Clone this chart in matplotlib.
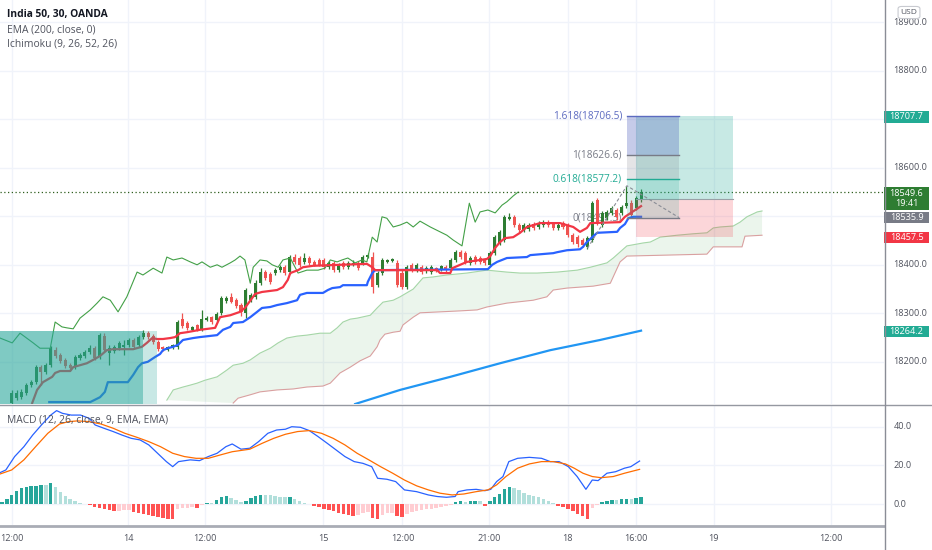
import numpy as np
import matplotlib.pyplot as plt
import matplotlib.transforms as mtransforms
from matplotlib.patches import Rectangle, FancyBboxPatch
from matplotlib.lines import Line2D

plt.rcParams['font.family'] = ['Open Sans', 'DejaVu Sans']

# ---------------- data (30 min bars, index = bar number) ----------------
opens = [18115, 18125, 18127, 18136, 18152, 18158, 18189, 18179, 18193, 18224,
         18214, 18204, 18193, 18189, 18208, 18212, 18220, 18228, 18210, 18253,
         18218, 18222, 18228, 18231, 18235, 18245, 18235, 18251, 18259, 18253,
         18241, 18231, 18224, 18228, 18231, 18288, 18280, 18266, 18276, 18266,
         18286, 18292, 18286, 18301, 18325, 18334, 18328, 18317, 18301, 18328,
         18334, 18362, 18385, 18381, 18383, 18389, 18395, 18385, 18416, 18414,
         18406, 18414, 18406, 18410, 18410, 18395, 18404, 18389, 18404, 18395,
         18400, 18404, 18404, 18416, 18416, 18358, 18383, 18406, 18408, 18404,
         18383, 18354, 18400, 18389, 18395, 18387, 18385, 18393, 18391, 18395,
         18393, 18410, 18426, 18424, 18404, 18416, 18414, 18410, 18400, 18424,
         18445, 18451, 18494, 18499, 18482, 18472, 18474, 18484, 18478, 18482,
         18488, 18484, 18476, 18486, 18482, 18461, 18457, 18451, 18437, 18451,
         18534, 18482, 18496, 18507, 18513, 18507, 18521, 18527, 18517, 18534]
closes = [18136, 18136, 18138, 18152, 18158, 18189, 18179, 18193, 18228, 18212,
          18202, 18191, 18187, 18210, 18214, 18220, 18228, 18208, 18255, 18224,
          18228, 18231, 18239, 18235, 18245, 18231, 18251, 18259, 18251, 18241,
          18226, 18226, 18231, 18235, 18282, 18274, 18270, 18272, 18266, 18288,
          18290, 18282, 18299, 18332, 18332, 18323, 18315, 18303, 18348, 18338,
          18362, 18385, 18373, 18365, 18389, 18395, 18383, 18416, 18406, 18400,
          18414, 18404, 18400, 18400, 18395, 18404, 18389, 18400, 18395, 18404,
          18404, 18393, 18416, 18420, 18354, 18383, 18410, 18410, 18412, 18358,
          18354, 18395, 18389, 18400, 18385, 18393, 18395, 18389, 18397, 18389,
          18410, 18426, 18416, 18406, 18414, 18406, 18406, 18404, 18424, 18457,
          18468, 18499, 18499, 18482, 18472, 18482, 18482, 18476, 18486, 18488,
          18482, 18476, 18482, 18478, 18461, 18447, 18443, 18441, 18455, 18527,
          18486, 18507, 18509, 18517, 18499, 18519, 18527, 18503, 18538, 18549.6]
highs = [18142, 18142, 18144, 18156, 18162, 18193, 18193, 18197, 18232, 18231,
         18218, 18208, 18197, 18214, 18218, 18224, 18235, 18232, 18259, 18259,
         18235, 18235, 18243, 18245, 18249, 18249, 18255, 18266, 18263, 18257,
         18245, 18233, 18233, 18237, 18286, 18301, 18284, 18274, 18278, 18307,
         18294, 18294, 18303, 18336, 18336, 18342, 18332, 18321, 18352, 18342,
         18369, 18393, 18389, 18385, 18393, 18400, 18400, 18420, 18422, 18418,
         18424, 18418, 18410, 18414, 18414, 18408, 18408, 18404, 18408, 18408,
         18410, 18408, 18420, 18424, 18426, 18387, 18414, 18412, 18414, 18410,
         18389, 18400, 18404, 18404, 18400, 18397, 18400, 18395, 18400, 18400,
         18414, 18430, 18430, 18428, 18418, 18420, 18418, 18414, 18428, 18461,
         18472, 18503, 18507, 18503, 18486, 18486, 18486, 18488, 18490, 18492,
         18492, 18488, 18486, 18490, 18486, 18466, 18461, 18455, 18459, 18532,
         18538, 18511, 18513, 18521, 18517, 18523, 18563, 18534, 18542, 18556]
lows = [18109, 18121, 18123, 18132, 18148, 18154, 18152, 18175, 18189, 18208,
        18198, 18187, 18183, 18185, 18204, 18208, 18216, 18204, 18206, 18220,
        18193, 18218, 18224, 18214, 18231, 18226, 18231, 18247, 18247, 18237,
        18222, 18222, 18222, 18226, 18226, 18270, 18266, 18264, 18264, 18264,
        18284, 18278, 18284, 18296, 18321, 18321, 18311, 18294, 18290, 18323,
        18330, 18358, 18369, 18360, 18379, 18385, 18379, 18381, 18402, 18395,
        18402, 18400, 18397, 18397, 18391, 18391, 18385, 18385, 18391, 18391,
        18397, 18389, 18400, 18414, 18342, 18354, 18379, 18404, 18406, 18354,
        18350, 18350, 18385, 18385, 18381, 18383, 18381, 18385, 18387, 18385,
        18389, 18406, 18412, 18402, 18400, 18402, 18402, 18400, 18397, 18420,
        18441, 18447, 18492, 18478, 18468, 18468, 18470, 18472, 18474, 18478,
        18478, 18472, 18472, 18474, 18457, 18443, 18437, 18437, 18433, 18447,
        18482, 18478, 18492, 18503, 18492, 18503, 18517, 18499, 18513, 18530]

# Ichimoku conversion (red) / base (blue) lines: (bar, price)
red_line = [(4.2, 18115), (5.2, 18142), (6.4, 18158), (8.3, 18169), (8.9, 18177),
            (9.9, 18181), (12.0, 18181), (12.6, 18189), (14.0, 18193), (15.4, 18197),
            (16.7, 18204), (18.1, 18212), (19.5, 18224), (20.8, 18226), (24.9, 18226),
            (26.7, 18231), (27.7, 18239), (28.8, 18249), (29.8, 18247), (31.0, 18247),
            (32.5, 18249), (33.5, 18251), (34.5, 18259), (35.9, 18261), (38.6, 18266),
            (41.7, 18270), (42.7, 18292), (44.8, 18296), (46.8, 18303), (47.8, 18311),
            (49.9, 18340), (51.3, 18344), (54.4, 18348), (55.6, 18354), (56.6, 18369),
            (57.1, 18383), (58.7, 18389), (59.7, 18395), (61.8, 18398), (67.3, 18400),
            (72.8, 18402), (73.9, 18395), (74.5, 18389), (87.2, 18389), (87.8, 18383),
            (89.9, 18383), (90.3, 18393), (93.3, 18406), (97.4, 18412), (98.1, 18418),
            (99.1, 18435), (100.1, 18447), (101.1, 18455), (102.8, 18457), (104.2, 18466),
            (105.6, 18478), (108.3, 18486), (112.4, 18486), (115.1, 18478), (116.5, 18468),
            (117.9, 18476), (118.6, 18486), (124.7, 18488), (125.7, 18499), (127.2, 18509),
            (129.0, 18521)]
blue_line = [(7.7, 18117), (16.1, 18117), (18.1, 18127), (19.1, 18138), (19.7, 18158),
             (23.8, 18158), (24.9, 18173), (25.9, 18189), (26.7, 18197), (27.9, 18200),
             (29.4, 18210), (30.4, 18216), (31.0, 18224), (32.0, 18228), (33.1, 18231),
             (34.1, 18235), (35.1, 18245), (37.2, 18249), (38.6, 18251), (42.1, 18255),
             (43.3, 18266), (44.8, 18272), (45.4, 18280), (47.4, 18282), (48.9, 18292),
             (50.3, 18303), (51.3, 18311), (53.0, 18313), (54.4, 18317), (55.4, 18319),
             (56.4, 18321), (58.5, 18327), (59.1, 18338), (60.5, 18342), (63.8, 18342),
             (64.8, 18348), (65.7, 18352), (67.3, 18354), (67.9, 18358), (72.8, 18358),
             (73.0, 18365), (73.9, 18383), (74.5, 18389), (97.6, 18391), (98.5, 18400),
             (99.5, 18406), (101.5, 18414), (105.6, 18416), (106.3, 18420), (111.0, 18424),
             (111.8, 18426), (113.8, 18430), (116.5, 18432), (117.1, 18437), (117.9, 18447),
             (119.0, 18457), (120.0, 18466), (124.1, 18468), (124.7, 18476), (125.7, 18484),
             (126.4, 18496), (127.4, 18499), (129.0, 18499)]
lagging = [(-2.4, 18249), (0.1, 18239), (1.7, 18259), (4.4, 18239), (5.8, 18228),
           (7.9, 18228), (8.9, 18282), (10.3, 18272), (11.3, 18270), (12.6, 18268),
           (14.0, 18290), (16.1, 18307), (17.5, 18321), (18.7, 18334), (20.2, 18327),
           (21.8, 18303), (23.6, 18334), (25.7, 18385), (26.9, 18379), (29.0, 18393),
           (30.8, 18383), (31.8, 18416), (33.1, 18410), (34.9, 18414), (36.6, 18406),
           (38.0, 18400), (39.0, 18406), (40.7, 18395), (42.1, 18400), (43.1, 18395),
           (44.8, 18404), (45.8, 18410), (46.8, 18418), (47.8, 18410), (48.9, 18362),
           (49.5, 18395), (50.9, 18410), (52.3, 18408), (53.4, 18400), (54.6, 18395),
           (55.6, 18410), (57.1, 18414), (58.7, 18383), (60.5, 18389), (62.8, 18389),
           (64.2, 18393), (65.3, 18410), (66.7, 18406), (67.7, 18410), (68.9, 18414),
           (70.4, 18404), (71.8, 18410), (72.8, 18406), (73.9, 18457), (74.9, 18447),
           (75.9, 18499), (76.9, 18496), (78.2, 18478), (79.6, 18482), (81.0, 18488),
           (82.3, 18478), (83.7, 18490), (85.8, 18478), (87.8, 18468), (89.2, 18461),
           (90.5, 18451), (92.3, 18439), (93.8, 18527), (95.0, 18488), (96.0, 18509),
           (97.6, 18513), (99.1, 18507), (100.5, 18523), (101.5, 18530), (102.8, 18542),
           (103.8, 18550)]
span_a = [(31.8, 18121), (33.1, 18142), (35.1, 18148), (36.6, 18152), (38.0, 18156),
          (39.6, 18162), (42.1, 18169), (44.1, 18183), (45.4, 18193), (47.4, 18197),
          (48.9, 18204), (50.9, 18218), (53.0, 18228), (54.6, 18239), (56.4, 18249),
          (58.5, 18253), (60.5, 18255), (63.2, 18259), (65.3, 18259), (66.7, 18270),
          (67.9, 18282), (69.4, 18288), (70.8, 18290), (73.5, 18296), (74.9, 18311),
          (76.1, 18323), (78.2, 18327), (79.6, 18334), (82.3, 18350), (84.3, 18373),
          (86.4, 18375), (89.2, 18379), (93.3, 18383), (97.4, 18389), (101.5, 18385),
          (104.2, 18383), (107.7, 18383), (111.8, 18385), (115.9, 18389), (118.6, 18395),
          (122.0, 18404), (123.3, 18414), (126.1, 18439), (129.4, 18445), (130.9, 18447),
          (132.9, 18457), (136.4, 18461), (139.7, 18464), (142.5, 18466), (143.8, 18476),
          (145.2, 18478), (147.9, 18480), (149.3, 18488), (150.7, 18499), (152.8, 18509),
          (153.8, 18511)]
span_b = [(45.4, 18115), (46.4, 18125), (48.9, 18132), (50.9, 18138), (54.4, 18142),
          (57.7, 18144), (60.5, 18148), (63.8, 18150), (65.3, 18156), (67.3, 18177),
          (69.4, 18189), (71.4, 18202), (73.5, 18212), (74.9, 18231), (75.5, 18245),
          (76.5, 18257), (78.2, 18261), (79.6, 18263), (80.2, 18276), (82.3, 18292),
          (83.7, 18301), (87.8, 18303), (91.9, 18305), (95.4, 18307), (97.4, 18313),
          (101.5, 18321), (106.9, 18327), (109.7, 18334), (111.0, 18348), (113.8, 18352),
          (116.5, 18354), (119.2, 18356), (122.7, 18362), (124.7, 18406), (126.1, 18418),
          (142.5, 18422), (143.8, 18437), (149.7, 18437), (150.3, 18459), (153.8, 18461)]
ema200 = [(70.4, 18113), (79.6, 18142), (89.9, 18169), (100.1, 18197),
          (110.4, 18224), (120.6, 18245), (129.0, 18264.2)]

# MACD panel
macd_line = [(-2.4, 16.3), (-1.2, 17.7), (0.6, 24.6), (2.5, 29.7), (4.3, 35.7), (6.1, 40.9),
             (8.0, 46.0), (9.2, 48.3), (10.4, 46.9), (12.2, 46.0), (14.1, 46.0), (15.9, 44.3),
             (17.1, 40.9), (18.9, 39.2), (20.8, 37.5), (22.6, 35.7), (24.5, 34.0), (26.3, 33.2),
             (28.1, 30.6), (29.9, 26.3), (31.7, 22.0), (33.0, 19.4), (34.2, 22.0), (36.6, 22.9),
             (38.5, 22.5), (40.3, 24.6), (42.1, 26.3), (43.9, 29.7), (45.2, 31.1), (47.0, 28.4),
             (48.8, 28.9), (50.6, 32.3), (52.5, 36.6), (54.3, 38.3), (56.1, 38.7), (57.4, 40.0),
             (59.2, 39.7), (61.0, 38.0), (62.8, 34.9), (64.7, 31.4), (66.5, 28.0), (68.3, 24.6),
             (70.2, 22.0), (72.0, 21.1), (73.8, 19.4), (75.0, 13.4), (76.9, 12.9), (78.7, 11.7),
             (80.5, 7.4), (83.0, 6.5), (85.4, 4.8), (87.2, 4.0), (89.1, 3.6), (90.9, 4.0),
             (91.5, 6.5), (93.3, 7.4), (95.2, 7.7), (97.0, 7.0), (98.2, 7.7), (99.4, 11.7),
             (100.7, 14.3), (101.9, 22.0), (103.7, 23.7), (106.1, 24.2), (108.6, 23.7),
             (110.4, 22.0), (112.2, 22.0), (114.1, 19.4), (115.9, 14.3), (117.7, 7.7),
             (119.0, 12.5), (120.2, 12.2), (122.0, 16.0), (123.8, 16.8), (125.6, 18.6),
             (126.9, 19.4), (128.7, 22.3)]
signal_line = [(-2.4, 15.6), (0.0, 17.7), (2.5, 22.9), (4.9, 29.7), (7.4, 36.6), (9.8, 41.4),
               (11.6, 42.6), (13.5, 43.0), (15.9, 42.6), (18.3, 41.4), (20.8, 39.2), (23.2, 36.6),
               (25.7, 34.5), (28.1, 32.3), (30.5, 29.7), (33.0, 26.3), (35.4, 24.6), (37.8, 23.7),
               (40.3, 23.7), (42.7, 25.4), (45.2, 27.1), (48.8, 28.4), (51.3, 31.4), (53.7, 34.0),
               (56.1, 36.1), (58.6, 37.5), (61.0, 38.0), (63.5, 36.6), (65.9, 34.0), (68.3, 30.6),
               (70.8, 26.3), (73.2, 22.9), (75.6, 19.4), (78.1, 16.0), (80.5, 12.5), (83.0, 9.5),
               (85.4, 7.4), (87.8, 5.7), (90.3, 4.8), (92.7, 5.3), (95.2, 6.5), (97.6, 7.4),
               (99.4, 10.0), (101.3, 14.3), (103.7, 18.6), (106.1, 20.8), (108.6, 22.0),
               (111.0, 22.0), (113.5, 20.8), (115.3, 18.6), (117.1, 16.0), (119.0, 14.3),
               (120.8, 13.7), (123.3, 14.3), (125.6, 16.0), (128.7, 18.0)]
hist_start = -2
hist = [1.4, 2.6, 4.8, 7.0, 8.2, 8.8, 9.5, 9.6, 10.0, 9.7, 11.0, 9.0, 6.5, 4.5, 2.8, 1.6,
        0.6, 0.1, -0.4, -1.2, -2.0, -2.6, -3.2, -3.6, -3.4, -3.0, -2.8, -3.9, -4.3, -4.8,
        -5.5, -6.2, -6.8, -7.2, -7.5, -7.7, -2.2, -2.0, -1.7, -1.5, -2.0, -0.4, 0.8, 0.5,
        2.4, 3.5, 4.2, 3.2, 2.2, 1.3, 1.8, 3.0, 4.3, 4.9, 4.8, 4.7, 4.3, 4.0, 3.5, 3.8,
        2.5, 1.6, 0.8, 0.3, -0.9, -1.6, -2.3, -3.0, -3.6, -4.3, -5.0, -5.6, -6.0, -5.4,
        -4.4, -4.0, -7.2, -7.6, -5.5, -4.6, -4.3, -5.8, -6.8, -5.0, -4.0, -3.4, -3.0, -2.6,
        -2.2, -1.8, -1.3, -0.8, -0.3, 1.2, 1.9, 1.4, 1.8, 1.9, 1.5, -0.8, 1.5, 3.5, 5.5,
        7.8, 8.8, 8.2, 7.2, 6.0, 5.0, 4.2, 3.5, 2.6, 1.5, 0.6, -0.9, -1.6, -2.5, -3.6,
        -4.8, -6.0, -7.5, -2.0, -0.5, 1.2, 1.8, 2.2, 2.0, 2.6, 2.8, 2.5, 3.2, 3.5]

# drawings
last_price = 18549.6
entry, target, stop = 18535.9, 18707.7, 18457.5
fib_levels = [(1.618, 18706.5), (1.0, 18626.6), (0.618, 18577.2), (0.0, 18497.3)]
fib_points = [(118.0, 18434), (126.1, 18563), (136.8, 18497.3)]
time_pos = [0.06, 23.9, 39.6, 63.8, 80.1, 97.8, 114.0, 128.0, 143.9, 167.9]
time_labels = ['12:00', '14', '12:00', '15', '12:00', '21:00', '18', '16:00', '19', '12:00']
price_ticks = [18200, 18300, 18400, 18600, 18800, 18900]
macd_ticks = [0, 20, 40]

# ---------------- figure ----------------
W, H = 932, 550
AXR = 884
fig = plt.figure(figsize=(W / 100, H / 100), dpi=100)
ax = fig.add_axes([0, 1 - 404 / H, AXR / W, 404 / H])
ax2 = fig.add_axes([0, 1 - 525 / H, AXR / W, 120 / H])
for a in (ax, ax2):
    a.set_xlim(-2.4, 178.8)
    for s in a.spines.values():
        s.set_visible(False)
    a.set_xticks([])
    a.set_yticks([])
ax.set_ylim(18113, 18946)
ax2.set_ylim(-10.7, 51.2)

grid_c = '#f0f3fa'
for p in range(18200, 19000, 100):
    ax.axhline(p, color=grid_c, lw=1, zorder=0)
for v in macd_ticks:
    ax2.axhline(v, color=grid_c, lw=1, zorder=0)
for t in time_pos:
    ax.axvline(t, color=grid_c, lw=1, zorder=0)
    ax2.axvline(t, color=grid_c, lw=1, zorder=0)

# Ichimoku cloud
ax_x, ax_p = zip(*span_a)
bx_x, bx_p = zip(*span_b)
ax.fill(list(ax_x) + list(bx_x)[::-1], list(ax_p) + list(bx_p)[::-1],
        color='#43a047', alpha=0.10, lw=0, zorder=1)
ax.plot(ax_x, ax_p, color='#a5d6a7', lw=0.8, zorder=1.5)
ax.plot(bx_x, bx_p, color='#d9a0a0', lw=0.8, zorder=1.5)

# candles
idx = np.arange(len(closes))
o = np.array(opens); c = np.array(closes)
up = c >= o
col = np.where(up, '#2e7d32', '#ef5350')
ax.vlines(idx, lows, highs, color=col, lw=0.9, zorder=3)
body = np.maximum(np.abs(c - o), 2.5)
ax.bar(idx, body, bottom=np.minimum(o, c), width=0.62, color=col, lw=0, zorder=3)

# indicator lines
x, p = zip(*ema200)
ax.plot(x, p, color='#2196f3', lw=1.6, zorder=4)
x, p = zip(*lagging)
ax.plot(x, p, color='#43a047', lw=0.8, zorder=4)
x, p = zip(*blue_line)
ax.plot(x, p, color='#2962ff', lw=1.6, zorder=4)
x, p = zip(*red_line)
ax.plot(x, p, color='#f23645', lw=1.6, zorder=4)

# last price dotted line
ax.axhline(last_price, color='#2e5e1e', lw=0.9, ls=(0, (1, 2)), zorder=4)

# teal boxes on the left
ax.add_patch(Rectangle((-2.4, 18100), 32.2, 18264 - 18100, color='#26a69a', alpha=0.25, lw=0, zorder=5))
ax.add_patch(Rectangle((-2.4, 18100), 29.3, 18264 - 18100, color='#26a69a', alpha=0.45, lw=0, zorder=5))

# long position
ax.add_patch(Rectangle((128.0, entry), 19.9, target - entry, color='#22ab94', alpha=0.25, lw=0, zorder=5))
ax.add_patch(Rectangle((128.0, stop), 19.9, entry - stop, color='#f23645', alpha=0.2, lw=0, zorder=5))
ax.plot([128.0, 147.9], [entry, entry], color='#9aa0a6', lw=0.8, zorder=5)

# fib extension
fx0, fx1 = 126.1, 136.8
fib_cols = ['#5c6bc0', '#787b86', '#22ab94', '#787b86']
band_cols = ['#5c6bc0', '#787b86', '#22ab94']
band_alpha = [0.35, 0.2, 0.18]
for k in range(3):
    lo, hi = fib_levels[k + 1][1], fib_levels[k][1]
    ax.add_patch(Rectangle((fx0, lo), fx1 - fx0, hi - lo, color=band_cols[k],
                           alpha=band_alpha[k], lw=0, zorder=5))
for (r, v), cc in zip(fib_levels, fib_cols):
    ax.plot([fx0, fx1], [v, v], color=cc, lw=1, zorder=5)
    lab = f"{r:g}({v:.1f})"
    ax.text(fx0 - 1.0, v, lab, ha='right', va='center', fontsize=7.3, color=cc,
            zorder=2 if r == 0 else 6)
fxp, fpp = zip(*fib_points)
ax.plot(fxp, fpp, color='#8a8d96', lw=0.8, ls=(0, (3, 2)), zorder=5)

# right price scale
ytr = ax.get_yaxis_transform()
for p in price_ticks:
    ax.text(1.0105, p, f"{p:.1f}", transform=ytr, ha='left', va='center',
            fontsize=6.6, color='#50535e', clip_on=False)
for v in macd_ticks:
    ax2.text(1.0105, v, f"{v:.1f}", transform=ax2.get_yaxis_transform(), ha='left',
             va='center', fontsize=6.6, color='#50535e', clip_on=False)

pp = (18946 - 18113) / 404.0  # price units per pixel


def tag(y, h, txt, bg):
    ax.add_patch(Rectangle((1.0, y - h / 2 * pp), 0.051, h * pp, transform=ytr,
                           color=bg, lw=0, clip_on=False, zorder=10))
    ax.text(1.0255, y, txt, transform=ytr, ha='center', va='center', color='white',
            fontsize=6.6, clip_on=False, zorder=11, linespacing=1.15)


tag(target - 2.5, 12, f"{target:.1f}", '#22ab94')
tag(last_price - 12.0, 23, f"{last_price:.1f}\n19:41", '#2e7d32')
tag(entry - 38.5, 11, f"{entry:.1f}", '#787b86')
tag(stop - 1.5, 11, f"{stop:.1f}", '#f23645')
tag(18262.5, 11, f"{ema200[-1][1]:.1f}", '#22ab94')

# USD badge
fig.add_artist(FancyBboxPatch((899 / W, 1 - 18 / H), 20 / W, 11 / H,
                              boxstyle='round,pad=0.001,rounding_size=0.004',
                              transform=fig.transFigure, fc='white', ec='#c8cad0', lw=0.8))
fig.text(909 / W, 1 - 12.5 / H, 'USD', ha='center', va='center', fontsize=6, color='#50535e')

# MACD panel
hv = np.array(hist)
hx = np.arange(hist_start, hist_start + len(hv))
prev = np.concatenate([[0], hv[:-1]])
hcol = np.where(hv >= 0, np.where(hv >= prev, '#26a69a', '#b2dfdb'),
                np.where(hv < prev, '#ff5252', '#ffcdd2'))
ax2.bar(hx, hv, width=0.72, color=hcol, lw=0, zorder=2)
x, v = zip(*macd_line)
ax2.plot(x, v, color='#2962ff', lw=0.9, zorder=3)
x, v = zip(*signal_line)
ax2.plot(x, v, color='#ff6d00', lw=0.9, zorder=3)

# time axis labels
for t, lab in zip(time_pos, time_labels):
    ax2.text(t, -0.115, lab, transform=ax2.get_xaxis_transform(), ha='center', va='center',
             fontsize=6.6, color='#50535e', clip_on=False)

# legends
fig.text(7 / W, 1 - 14.5 / H, 'India 50, 30, OANDA', fontsize=7.4, fontweight='bold', color='#131722', va='center')
fig.text(7 / W, 1 - 29.5 / H, 'EMA (200, close, 0)', fontsize=7.4, color='#50535e', va='center')
fig.text(7 / W, 1 - 44.5 / H, 'Ichimoku (9, 26, 52, 26)', fontsize=7.4, color='#50535e', va='center')
fig.text(7 / W, 1 - 419.5 / H, 'MACD (12, 26, close, 9, EMA, EMA)', fontsize=7.4, color='#50535e', va='center')

# panel separators
def fline(x0, y0, x1, y1, c, lw):
    fig.add_artist(Line2D([x0 / W, x1 / W], [1 - y0 / H, 1 - y1 / H], color=c, lw=lw,
                          transform=fig.transFigure))


fline(0, 404.5, W, 404.5, '#9598a1', 1.0)
fline(0, 525.5, AXR, 525.5, '#a9acb5', 2.0)
fline(AXR + 0.5, 0, AXR + 0.5, H, '#8a8d96', 1.0)

fig.savefig('out.png', dpi=100, facecolor='white')
